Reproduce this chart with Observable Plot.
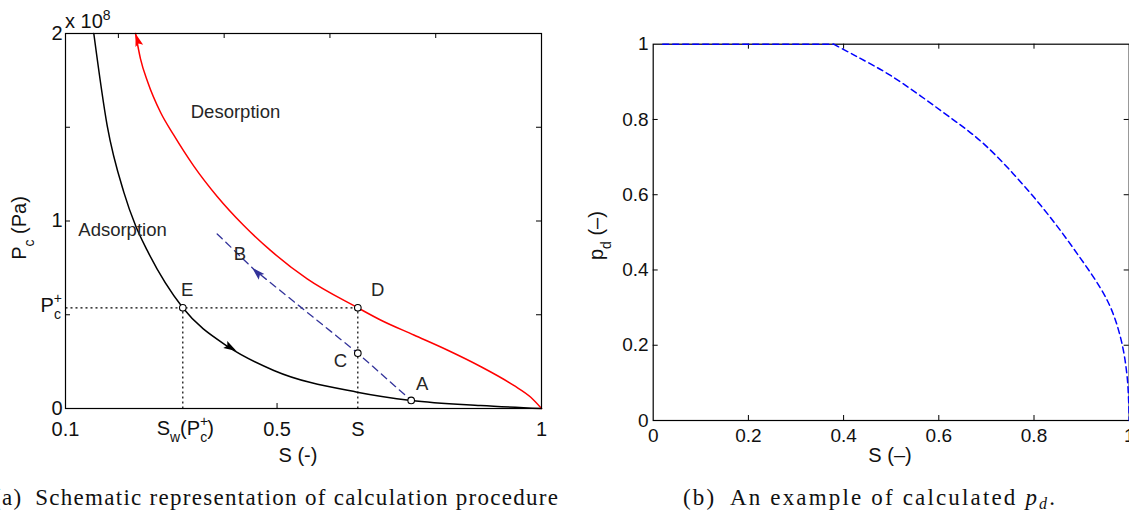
<!DOCTYPE html>
<html><head><meta charset="utf-8">
<script src="https://cdn.jsdelivr.net/npm/d3@7"></script>
<script src="https://cdn.jsdelivr.net/npm/@observablehq/plot@0.6"></script>
<style>
body{margin:0;background:#fff;overflow:hidden}
#root{position:relative;width:1129px;height:515px;overflow:hidden;background:#fff}
.panel{position:absolute;top:0}
.panel svg{max-width:none !important}
</style></head><body>
<div id="root"><div id="left" class="panel" style="left:0px;width:560px"></div><div id="right" class="panel" style="left:580px;width:600px"></div></div>
<script>
// ---------- data (left panel: capillary pressure, 1e8 Pa) ----------
const adsS = [0.1535,0.1788,0.2102,0.2324,0.2545,0.3218,0.4088,0.4939,0.6516,0.7536,0.885,1.0];
const adsP = [2.0,1.509,1.154,0.976,0.843,0.537,0.327,0.203,0.087,0.043,0.016,0.0];
const desS = [0.2324,0.2418,0.2556,0.2796,0.3048,0.3426,0.3868,0.4371,0.4876,0.557,0.6527,0.6956,0.7586,0.8217,0.8847,0.9476,0.9792,1.0];
const desP = [2.0,1.865,1.740,1.580,1.458,1.293,1.131,0.976,0.843,0.691,0.537,0.472,0.392,0.312,0.224,0.123,0.061,0.0];
const scanS = [0.3868,0.455,0.6527,0.7536];
const scanP = [0.931,0.745,0.295,0.043];
const Sw = 0.3218, Scur = 0.6527, PcPlus = 0.537;
const ptS = [Sw, Scur, Scur, 0.7536];
const ptP = [PcPlus, PcPlus, 0.295, 0.043];
const lblText = ["Desorption","Adsorption","A","B","C","D","E"];
const lblS = [0.4214,0.2078,0.7745,0.4296,0.62,0.6905,0.330];
const lblP = [1.58,0.949,0.132,0.825,0.252,0.633,0.633];
const arrS = [0.2324,0.4233,0.453];
const arrP = [2.0,0.307,0.75];
const arrRot = [-17,120,-46];
const arrCol = ["#ff0000","#000000","#33339a"];
const xTickValsL = [0.1,0.5,Scur,1];
const xTickLabsL = ["0.1","0.5","S","1"];
const yTickValsL = [0,1,2];
const yTickLabsL = ["0","1","2"];
const xMinorL = [0.2,0.4,0.6,0.8];
const xBotTickL = [0.5];
const yMinorL = [0.5,1,1.5];
// ---------- data (right panel: p_d) ----------
const pdS = [0.02,0.1,0.2,0.3,0.379,0.425,0.4985,0.6036,0.6946,0.80,0.8836,0.954,0.9817,0.9958,1.0];
const pdP = [1,1,1,1,1,0.969,0.917,0.824,0.735,0.593,0.456,0.319,0.221,0.115,0];
const pdKnee = 4; // index where the plateau ends
const tickValsR = [0,0.2,0.4,0.6,0.8,1];
const tickLabsR = ["0","0.2","0.4","0.6","0.8","1"];
const innerTicksR = [0.2,0.4,0.6,0.8];

const FONT = '"Liberation Sans", Arial, Helvetica, sans-serif';
const SERIF = '"Liberation Serif", "DejaVu Serif", serif';

const arrowSym = {draw(ctx){ const L=13, W=4; ctx.moveTo(0,0); ctx.lineTo(W,L); ctx.lineTo(0,L-2.5); ctx.lineTo(-W,L); ctx.closePath(); }};

const zipXY = (xs, ys) => xs.map((x,i)=>({x, y: ys[i]}));

// ---------- left plot ----------
const W1=560,H1=470,mL1=65,mR1=19,mT1=33,mB1=62;
const fw1=W1-mL1-mR1, fh1=H1-mT1-mB1;
const xLabMapL = new Map(xTickValsL.map((v,i)=>[v,xTickLabsL[i]]));
const yLabMapL = new Map(yTickValsL.map((v,i)=>[v,yTickLabsL[i]]));
const dotted = [
  {x1:0.1,y1:PcPlus,x2:Scur,y2:PcPlus},
  {x1:Sw,y1:0,x2:Sw,y2:PcPlus},
  {x1:Scur,y1:0,x2:Scur,y2:PcPlus}
];
const arrows = arrS.map((s,i)=>({x:s,y:arrP[i],r:arrRot[i],c:arrCol[i]}));
const pts = zipXY(ptS, ptP);
const lbls = lblS.map((s,i)=>({x:s,y:lblP[i],t:lblText[i]}));

const left = Plot.plot({
  width:W1, height:H1, marginLeft:mL1, marginRight:mR1, marginTop:mT1, marginBottom:mB1,
  style:{fontFamily:FONT, fontSize:"20px", color:"#000", background:"transparent", overflow:"visible", maxWidth:"none"},
  x:{domain:[0.1,1], label:null}, y:{domain:[0,2], label:null},
  marks:[
    Plot.link(dotted,{x1:"x1",y1:"y1",x2:"x2",y2:"y2",stroke:"#000",strokeWidth:1.2,strokeDasharray:"2,3"}),
    Plot.line(zipXY(adsS,adsP),{x:"x",y:"y",stroke:"#000",strokeWidth:1.5,curve:"monotone-x"}),
    Plot.line(zipXY(desS,desP),{x:"x",y:"y",stroke:"#ff0000",strokeWidth:1.5,curve:"monotone-x"}),
    Plot.line(zipXY(scanS,scanP),{x:"x",y:"y",stroke:"#33339a",strokeWidth:1.3,strokeDasharray:"7,5"}),
    Plot.dot(arrows,{x:"x",y:"y",symbol:arrowSym,fill:"c",stroke:null,rotate:"r"}),
    Plot.dot(pts,{x:"x",y:"y",r:3.3,fill:"white",stroke:"#000",strokeWidth:1.1}),
    Plot.text(lbls,{x:"x",y:"y",text:"t",fill:"#262626",fontSize:18.5}),
    Plot.frame({stroke:"#000",strokeWidth:1.2}),
    Plot.tickX(xMinorL,{x:d=>d,insetBottom:fh1-5,stroke:"#000"}),
    Plot.tickX(xBotTickL,{x:d=>d,insetTop:fh1-5,stroke:"#000"}),
    Plot.tickY(yMinorL,{y:d=>d,insetRight:fw1-5,stroke:"#000"}),
    Plot.tickY(yMinorL,{y:d=>d,insetLeft:fw1-5,stroke:"#000"}),
    Plot.axisX(xTickValsL,{anchor:"bottom",tickSize:0,tickPadding:13,tickFormat:d=>xLabMapL.get(d),label:null,fill:"#111"}),
    Plot.axisY(yTickValsL,{anchor:"left",tickSize:0,tickPadding:3,tickFormat:d=>yLabMapL.get(d),label:null,fill:"#111"})
  ]
});
document.getElementById("left").appendChild(left);

function rich(svg, o, parts){
  const t = d3.select(svg).append("text")
    .attr("transform",`translate(${o.x},${o.y}) rotate(${o.rotate||0})`)
    .attr("text-anchor",o.anchor||"start").attr("font-family",o.family||FONT)
    .attr("font-size",o.size||20).attr("fill",o.fill||"#111");
  for(const p of parts){
    const s=t.append("tspan").text(p.t);
    if(p.size) s.attr("font-size",p.size);
    if(p.dx) s.attr("dx",p.dx);
    if(p.dy) s.attr("dy",p.dy);
    if(p.italic) s.attr("font-style","italic");
  }
  return t;
}
const xsL = left.scale("x"), ysL = left.scale("y");
rich(left,{x:mL1-3,y:ysL.apply(0.5)-2,anchor:"end"},[{t:"P"},{t:"+",size:14,dy:-9},{t:"c",size:14,dx:-8,dy:16}]);
rich(left,{x:xsL.apply(Sw)+3,y:H1-mB1+27,anchor:"middle"},[{t:"S"},{t:"w",size:14,dy:7},{t:"(P",dy:-7},{t:"+",size:14,dy:-9},{t:"c",size:14,dx:-8,dy:16},{t:")",dy:-7}]);
rich(left,{x:mL1,y:mT1-5},[{t:"x 10"},{t:"8",size:14,dy:-8}]);
rich(left,{x:(mL1+W1-mR1)/2-5,y:H1-8,anchor:"middle"},[{t:"S (-)"}]);
rich(left,{x:26,y:mT1+fh1*0.52,anchor:"middle",rotate:-90},[{t:"P"},{t:"c",size:14,dy:8},{t:" (Pa)",dy:-8}]);

// ---------- right plot ----------
const W2=600,H2=470,mL2=72.7,mT2=43.7,mB2=50,mR2=W2-72.7-476;
const fw2=W2-mL2-mR2, fh2=H2-mT2-mB2;
const labMapR = new Map(tickValsR.map((v,i)=>[v,tickLabsR[i]]));
const pdAll = zipXY(pdS,pdP);
const right = Plot.plot({
  width:W2, height:H2, marginLeft:mL2, marginRight:mR2, marginTop:mT2, marginBottom:mB2,
  style:{fontFamily:FONT, fontSize:"19px", color:"#000", background:"transparent", overflow:"visible", maxWidth:"none"},
  x:{domain:[0,1], label:null}, y:{domain:[0,1], label:null},
  marks:[
    Plot.frame({stroke:"#000",strokeWidth:1.2}),
    Plot.tickX(innerTicksR,{x:d=>d,insetBottom:fh2-5,stroke:"#000"}),
    Plot.tickX(innerTicksR,{x:d=>d,insetTop:fh2-5,stroke:"#000"}),
    Plot.tickY(innerTicksR,{y:d=>d,insetRight:fw2-5,stroke:"#000"}),
    Plot.tickY(innerTicksR,{y:d=>d,insetLeft:fw2-5,stroke:"#000"}),
    Plot.line(pdAll.slice(0,pdKnee+1),{x:"x",y:"y",stroke:"#0000ff",strokeWidth:1.5,strokeDasharray:"6,4"}),
    Plot.line(pdAll.slice(pdKnee),{x:"x",y:"y",stroke:"#0000ff",strokeWidth:1.5,strokeDasharray:"6,4",curve:"catmull-rom"}),
    Plot.axisX(tickValsR,{anchor:"bottom",tickSize:0,tickPadding:8,tickFormat:d=>labMapR.get(d),label:null,fill:"#111"}),
    Plot.axisY(tickValsR,{anchor:"left",tickSize:0,tickPadding:4.5,tickFormat:d=>labMapR.get(d),label:null,fill:"#111"})
  ]
});
document.getElementById("right").appendChild(right);
rich(right,{x:310,y:H2-8,anchor:"middle"},[{t:"S (–)"}]);
rich(right,{x:23,y:mT2+fh2*0.51,anchor:"middle",rotate:-90},[{t:"p"},{t:"d",size:14,dy:8},{t:" (–)",dy:-8}]);

// ---------- captions ----------
const cap = d3.select("#root").append("svg").attr("width",1129).attr("height",515)
  .style("position","absolute").style("left","0px").style("top","0px").style("pointer-events","none");
cap.append("text").attr("x",-7).attr("y",505).attr("font-family",SERIF).attr("font-size",23)
  .attr("textLength",565).attr("lengthAdjust","spacing").attr("fill","#111")
  .text("(a)\u2002Schematic representation of calculation procedure");
const c2 = cap.append("text").attr("x",683).attr("y",505).attr("font-family",SERIF).attr("font-size",23)
  .attr("textLength",372).attr("lengthAdjust","spacing").attr("fill","#111");
c2.append("tspan").text("(b)\u2002An example of calculated ");
c2.append("tspan").attr("font-style","italic").text("p");
c2.append("tspan").attr("font-style","italic").attr("font-size",16).attr("dy",4).text("d");
c2.append("tspan").attr("dy",-4).text(".");
</script>
</body></html>
